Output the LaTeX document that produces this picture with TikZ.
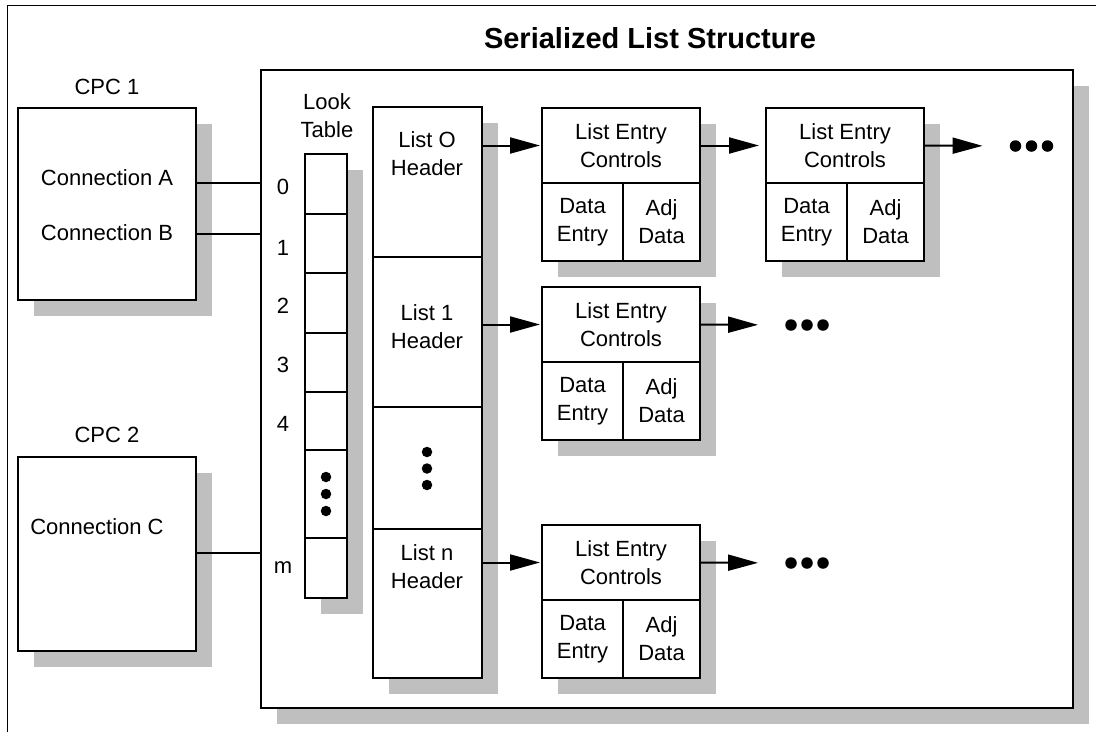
\documentclass[tikz,border=0pt]{standalone}
\usepackage{fontspec}
\setmainfont{Liberation Sans}
\usetikzlibrary{arrows.meta,shadows}
\definecolor{shadowgray}{RGB}{191,191,191}
\newcommand\diagfont{\fontsize{22pt}{28pt}\selectfont}
\newcommand\titlefont{\fontsize{29pt}{33pt}\selectfont\bfseries}
% one list entry: controls on top, data entry and adjunct data below
\newcommand\entrybox[3]{%
  \node[box,shadowed,minimum width=158pt,minimum height=153pt] (#1) at (#2,#3) {};
  \node[box,minimum width=158pt,minimum height=75pt] (#1c) at (#1.north west) {List Entry\\Controls};
  \node[box,minimum width=81pt,minimum height=78pt] (#1d) at (#1c.south west) {Data\\Entry};
  \node[box,minimum width=77pt,minimum height=78pt] (#1a) at (#1d.north east) {Adj\\Data};
}
\tikzset{
  box/.style={draw, line width=2pt, fill=white, anchor=north west, inner sep=0pt,
              outer sep=0pt, align=center, font=\diagfont},
  shadowed/.style={drop shadow={shadow xshift=16pt, shadow yshift=-16pt,
              fill=shadowgray, opacity=1}},
  lbl/.style={inner sep=0pt, align=center, font=\diagfont},
  wire/.style={line width=1.8pt},
  link/.style={line width=2pt, -{Triangle[length=30pt,width=16pt]}},
  dot/.style={circle, fill=black, inner sep=0pt, minimum size=11.5pt},
  vdot/.style={circle, fill=black, inner sep=0pt, minimum size=10.5pt},
}
\begin{document}
\begin{tikzpicture}[x=1pt, y=-1pt]
\useasboundingbox (0,0) rectangle (1096,732);
\fill[white] (0,0) rectangle (1096,732);

% page frame
\draw[line width=1pt] (7,732) -- (7,5) -- (1096,5);

% title and structure outline
\node[lbl, font=\titlefont] (title) at (650,38) {Serialized List Structure};
\node[box, shadowed, minimum width=812pt, minimum height=638pt] (big) at (261,70) {};

% CPC boxes
\node[lbl] (cpc1lab) at (107,87) {CPC 1};
\node[box, shadowed, minimum width=178pt, minimum height=192pt] (cpc1) at (18,108) {};
\node[lbl] (conA) at (107,178) {Connection A};
\node[lbl] (conB) at (107,233) {Connection B};

\node[lbl] (cpc2lab) at (107,435) {CPC 2};
\node[box, shadowed, minimum width=178pt, minimum height=194pt] (cpc2) at (18,457) {};
\node[lbl] (conC) at (97,527) {Connection C};

% lock table
\node[lbl] (looklab) at (327,116) {Look\\Table};
\node[box, shadowed, minimum width=42pt, minimum height=444pt] (look) at (305,154) {};
\node[box, minimum width=42pt, minimum height=60pt] (lt0) at (look.north west) {};
\node[box, minimum width=42pt, minimum height=59pt] (lt1) at (lt0.south west) {};
\node[box, minimum width=42pt, minimum height=60pt] (lt2) at (lt1.south west) {};
\node[box, minimum width=42pt, minimum height=59pt] (lt3) at (lt2.south west) {};
\node[box, minimum width=42pt, minimum height=58pt] (lt4) at (lt3.south west) {};
\node[box, minimum width=42pt, minimum height=88pt] (ltd) at (lt4.south west) {};
\node[box, minimum width=42pt, minimum height=60pt] (ltm) at (ltd.south west) {};
\node[vdot] (ltd1) at (326,477) {};
\node[vdot] (ltd2) at (326,494) {};
\node[vdot] (ltd3) at (326,511) {};

\node[lbl] (n0) at (283,187) {0};
\node[lbl] (n1) at (283,248) {1};
\node[lbl] (n2) at (283,306) {2};
\node[lbl] (n3) at (283,365) {3};
\node[lbl] (n4) at (283,424) {4};
\node[lbl] (nm) at (283,568) {m};

% list headers
\node[box, shadowed, minimum width=109pt, minimum height=571pt] (hdr) at (373,107) {};
\node[box, minimum width=109pt, minimum height=150pt] (h0) at (hdr.north west) {};
\node[box, minimum width=109pt, minimum height=150pt] (h1) at (h0.south west) {};
\node[box, minimum width=109pt, minimum height=122pt] (h2) at (h1.south west) {};
\node[box, minimum width=109pt, minimum height=149pt] (h3) at (h2.south west) {};
\node[lbl] (h0t) at (427,154) {List O\\Header};
\node[lbl] (h1t) at (427,327) {List 1\\Header};
\node[lbl] (h3t) at (427,567) {List n\\Header};
\node[vdot] (hd1) at (427,452) {};
\node[vdot] (hd2) at (427,468.5) {};
\node[vdot] (hd3) at (427,485) {};

% list entries
\entrybox{e00}{542}{108}
\entrybox{e01}{766}{108}
\entrybox{e10}{542}{287}
\entrybox{e20}{542}{525}

% continuation marks
\node[dot] (m0a) at (1015.5,146) {};
\node[dot] (m0b) at (1031.5,146) {};
\node[dot] (m0c) at (1047.5,146) {};
\node[dot] (m1a) at (791,325) {};
\node[dot] (m1b) at (807,325) {};
\node[dot] (m1c) at (823,325) {};
\node[dot] (m2a) at (791,563) {};
\node[dot] (m2b) at (807,563) {};
\node[dot] (m2c) at (823,563) {};

% connections to the lock table
\coordinate (yA) at (0,183);
\coordinate (yB) at (0,234);
\coordinate (yC) at (0,553);
\draw[wire] (cpc1.east |- yA) -- (big.west |- yA);
\draw[wire] (cpc1.east |- yB) -- (big.west |- yB);
\draw[wire] (cpc2.east |- yC) -- (big.west |- yC);

% list chains
\draw[link, shorten >=2pt] (h0.east |- e00c.center) -- (e00c.west);
\draw[link, shorten >=7pt] (e00c.east) -- (e01c.west);
\draw[link, shorten >=27pt] (e01c.east) -- (m0a.west);
\draw[link, shorten >=2pt] (h1.east |- e10c.center) -- (e10c.west);
\draw[link, shorten >=27pt] (e10c.east) -- (m1a.west);
\draw[link, shorten >=2pt] (h3.east |- e20c.center) -- (e20c.west);
\draw[link, shorten >=27pt] (e20c.east) -- (m2a.west);
\end{tikzpicture}
\end{document}
